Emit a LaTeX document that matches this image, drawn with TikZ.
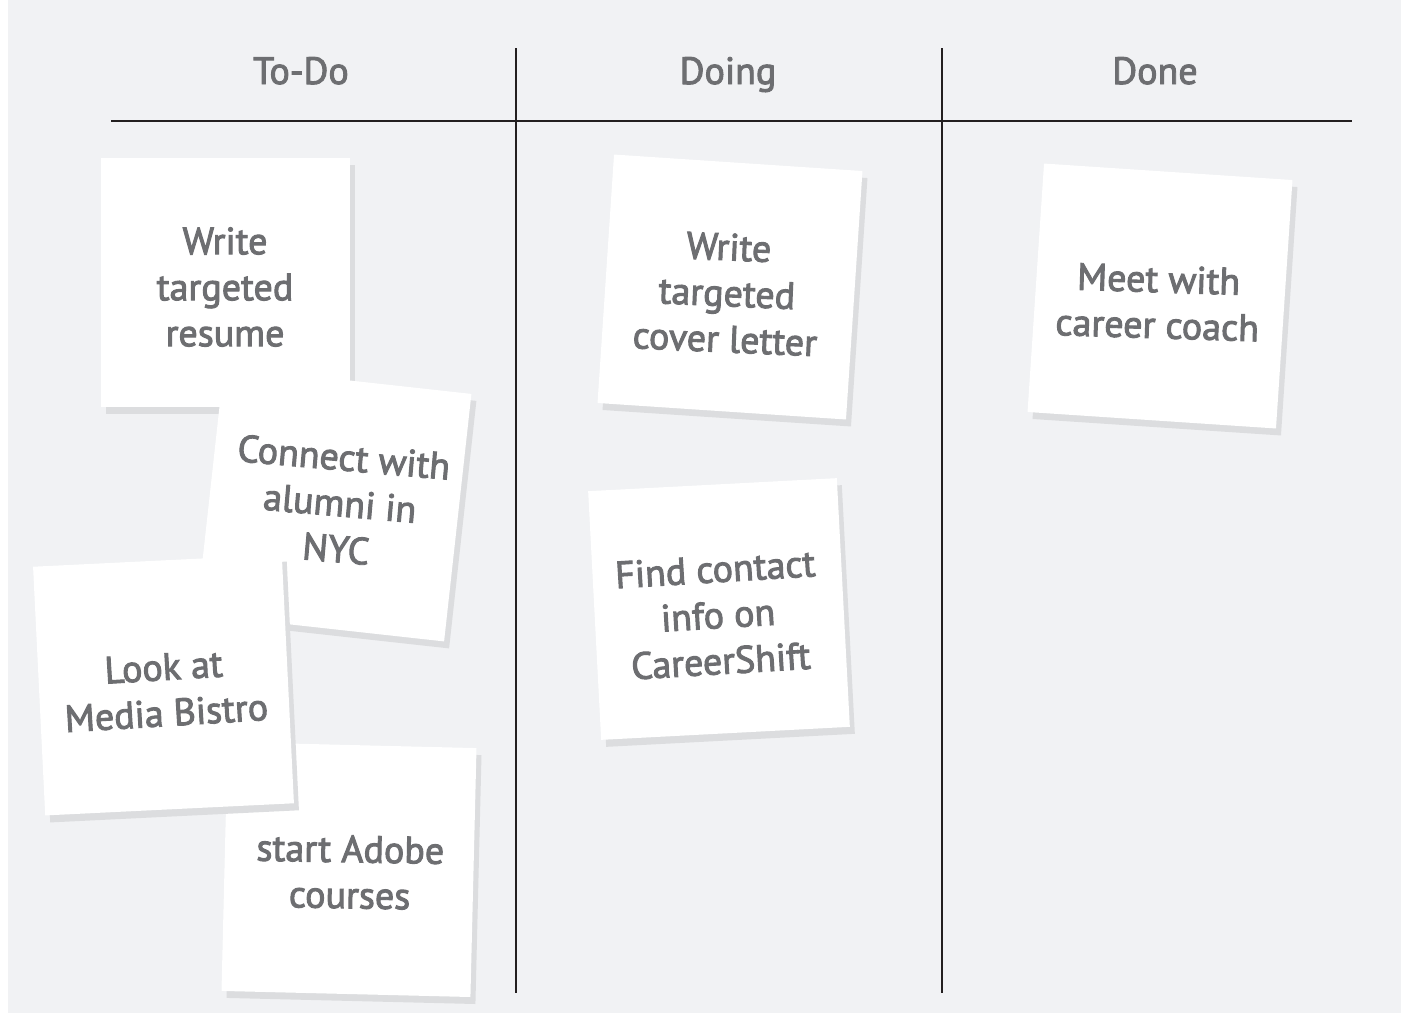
\documentclass[tikz,border=0pt]{standalone}
\usepackage{fontspec}
\setmainfont{PT Sans}
\newfontfamily\hand[FakeBold=2.5]{PT Sans}
\usetikzlibrary{calc}
\definecolor{bg}{HTML}{F1F2F4}
\definecolor{shade}{HTML}{DCDDDF}
\definecolor{ink}{HTML}{6D6E71}
\definecolor{rulec}{HTML}{231F20}
\tikzset{
  note/.style={fill=white, minimum width=249pt, minimum height=249pt, inner sep=0pt, outer sep=0pt},
  noteshadow/.style={fill=shade, minimum width=249pt, minimum height=249pt, inner sep=0pt, outer sep=0pt},
  notetext/.style={text=ink, align=center, font=\hand\fontsize{38}{46}\selectfont, inner sep=0pt},
  head/.style={text=ink, font=\hand\fontsize{38}{46}\selectfont, anchor=base, inner sep=0pt},
  boardline/.style={draw=rulec, line width=2.2pt},
}
\newcommand\stickynote[8]{%
  \node[noteshadow, rotate=#4] (#1s) at (#2+5,#3+7) {};
  \node[note, rotate=#4] (#1) at (#2,#3) {};
  \node[notetext, rotate=#7] (#1t) at (#5,#6) {#8};
}
\begin{document}
\begin{tikzpicture}[x=1pt,y=-1pt]
  \useasboundingbox (0,0) rectangle (1401,1013);
  \fill[white] (0,0) rectangle (1401,1013);
  \fill[bg] (8,0) rectangle (1401,1013);
  % board lines
  \coordinate (hl) at (111,121);
  \coordinate (hr) at (1352,121);
  \coordinate (v1t) at (516,48);
  \coordinate (v1b) at (516,993);
  \coordinate (v2t) at (942,48);
  \coordinate (v2b) at (942,993);
  \draw[boardline] (hl) -- (hr);
  \draw[boardline] (v1t) -- (v1b);
  \draw[boardline] (v2t) -- (v2b);
  % headers
  \node[head] (todo) at (301,84) {To-Do};
  \node[head] (doing) at (728,84) {Doing};
  \node[head] (done) at (1155,84) {Done};
  % notes
  \stickynote{n1}{225}{282}{0}{225}{287}{0}{Write\\targeted\\resume}
  \stickynote{n2}{334}{504}{-6.3}{340}{503}{-5}{Connect with\\alumni in\\NYC}
  \stickynote{n4}{349}{869.5}{-1.4}{350}{872}{-1}{start Adobe\\courses}
  \stickynote{n3}{163.5}{685}{2.8}{165}{690}{3.5}{Look at\\Media Bistro}
  \stickynote{n5}{730}{287}{-3.8}{727}{293}{-2.5}{Write\\targeted\\cover letter}
  \stickynote{n6}{719}{609}{3}{718}{615}{3.5}{Find contact\\info on\\CareerShift}
  \stickynote{n7}{1160}{296}{-3.8}{1158}{302}{-1.8}{Meet with\\career coach}
\end{tikzpicture}
\end{document}
